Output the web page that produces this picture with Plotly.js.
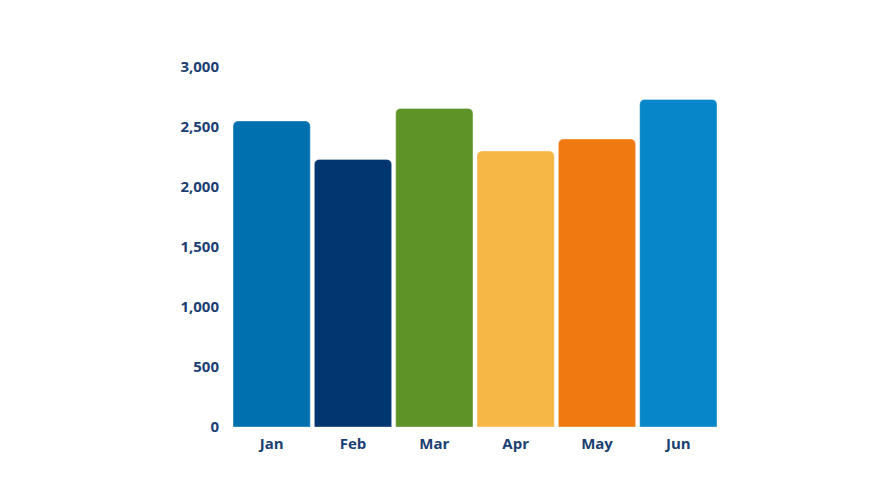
<!DOCTYPE html>
<html>
<head>
<meta charset="utf-8">
<script src="https://cdn.plot.ly/plotly-3.0.1.min.js"></script>
<style>html,body{margin:0;padding:0;background:#fff;}#chart{width:896px;height:504px;}</style>
</head>
<body>
<div id="chart"></div>
<script>
const months = ["Jan", "Feb", "Mar", "Apr", "May", "Jun"];
const values = [2550, 2230, 2655, 2300, 2400, 2730];
const barColors = ["#0071AE", "#023670", "#5D9327", "#F6B747", "#EF7A12", "#0786C9"];
const yTicks = [0, 500, 1000, 1500, 2000, 2500, 3000];

const labelColor = "#1B3F73";
const trace = {
  type: "bar",
  x: months,
  y: values,
  marker: {
    color: barColors,
    cornerradius: 5,
    line: {color: "rgba(255,255,255,0.35)", width: 1}
  },
  hoverinfo: "x+y"
};

const layout = {
  width: 896,
  height: 504,
  margin: {l: 231, r: 177, t: 67, b: 77},
  paper_bgcolor: "#ffffff",
  plot_bgcolor: "#ffffff",
  bargap: 0.05,
  showlegend: false,
  font: {family: "Open Sans, sans-serif", color: labelColor},
  xaxis: {
    showgrid: false,
    zeroline: false,
    showline: false,
    ticks: "",
    ticklen: 0,
    ticklabelstandoff: 6,
    tickfont: {size: 15, color: labelColor, family: "Open Sans, sans-serif", weight: "bold"}
  },
  yaxis: {
    range: [0, 3000],
    tickvals: yTicks,
    tickformat: ",d",
    showgrid: false,
    zeroline: false,
    showline: false,
    ticks: "",
    ticklabelstandoff: 11,
    tickfont: {size: 15, color: labelColor, family: "Open Sans, sans-serif", weight: "bold"}
  }
};

Plotly.newPlot("chart", [trace], layout, {displayModeBar: false, staticPlot: true});
</script>
</body>
</html>
